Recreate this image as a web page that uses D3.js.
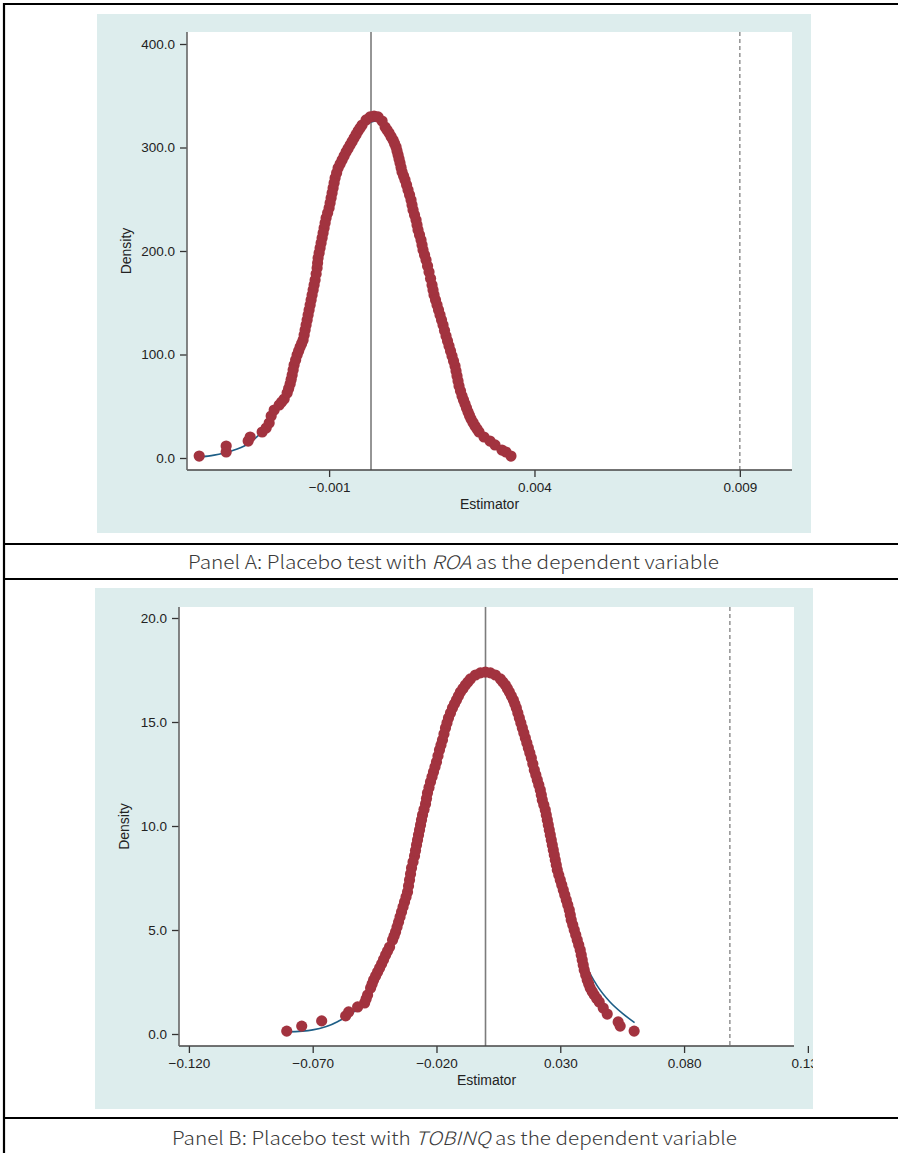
<!DOCTYPE html>
<html>
<head>
<meta charset="utf-8">
<script src="https://cdn.jsdelivr.net/npm/d3@7"></script>
<style>
  html, body { margin: 0; padding: 0; background: #ffffff; }
  svg { display: block; }
</style>
</head>
<body>
<svg id="chart" width="898" height="1153"></svg>
<script>
// ---------------- DATA ----------------
// Panel A: ROA placebo estimates, kernel density (dots) and normal curve (line)
const estA = [-0.004163,-0.003506,-0.003506,-0.002971,-0.002922,-0.002630,-0.002533,-0.002460,-0.002411,-0.002338,
  -0.002216,-0.002095,-0.002022,-0.001949,-0.001900,-0.001852,-0.001779,-0.001706,-0.001633,-0.001584,
  -0.001535,-0.001487,-0.001438,-0.001389,-0.001341,-0.001292,-0.001268,-0.001219,-0.001170,-0.001122,
  -0.001073,-0.001000,-0.000951,-0.000903,-0.000854,-0.000781,-0.000684,-0.000586,-0.000489,-0.000392,
  -0.000294,-0.000197,-0.000100,-0.000002,0.000095,0.000192,0.000290,0.000363,0.000460,0.000557,
  0.000630,0.000679,0.000727,0.000776,0.000849,0.000922,0.000995,0.001044,0.001117,0.001165,
  0.001238,0.001287,0.001360,0.001433,0.001506,0.001555,0.001628,0.001701,0.001774,0.001847,
  0.001920,0.001993,0.002066,0.002114,0.002163,0.002236,0.002309,0.002382,0.002455,0.002552,
  0.002650,0.002771,0.002917,0.003039,0.003209,0.003306,0.003428,
  // further estimates along the left flank
  -0.002156,-0.001985,-0.001924,-0.001876,-0.001815,-0.001742,-0.001669,-0.001608,-0.001560,-0.001511,
  -0.001462,-0.001414,-0.001365,-0.001316,-0.001280,-0.001243,-0.001195,-0.001146,-0.001097,-0.001036,
  -0.000976,-0.000927,-0.000878,-0.000817,-0.000732,-0.000635,-0.000538,-0.000440,-0.000343,-0.000246,
  // further estimates along the right flank
  0.000411,0.000508,0.000594,0.000654,0.000703,0.000752,0.000813,0.000886,0.000959,0.001019,
  0.001080,0.001141,0.001202,0.001263,0.001324,0.001397,0.001470,0.001530,0.001591,0.001664,
  0.001737,0.001810,0.001883,0.001956,0.002029,0.002090,0.002139,0.002199,0.002272,0.002345,
  0.002418,0.002504,0.002601];
const densA = [1.9,5.8,11.6,16.4,20.3,25.1,29.0,33.8,40.6,46.4,
  51.2,57.0,62.8,71.5,80.2,89.9,99.5,107.2,114.0,123.7,
  133.3,143.0,152.7,162.3,172.0,183.6,193.2,202.9,212.6,222.2,
  231.9,241.6,251.2,260.9,270.5,280.2,287.9,295.7,302.4,309.2,
  315.9,321.7,326.6,329.5,330.4,329.5,325.6,319.8,314.0,307.3,
  300.5,292.8,285.0,276.3,268.6,258.9,249.3,239.6,230.0,220.3,
  210.6,201.0,191.3,179.7,167.2,157.5,147.8,138.2,128.5,117.9,
  108.2,98.6,88.9,79.2,69.6,59.9,52.2,44.4,37.7,30.9,
  25.1,20.3,16.4,12.6,7.7,5.8,1.9,
  54.1,67.2,75.8,85.0,94.7,103.4,110.6,118.8,128.5,138.2,
  147.8,157.5,167.2,177.8,188.4,198.1,207.7,217.4,227.1,236.7,
  246.4,256.0,265.7,275.4,284.1,291.8,299.0,305.8,312.6,318.8,
  316.9,310.6,303.9,296.6,288.9,280.7,272.5,263.8,254.1,244.4,
  234.8,225.1,215.5,205.8,196.1,185.5,173.4,162.3,152.7,143.0,
  133.3,123.2,113.0,103.4,93.7,84.1,74.4,64.7,56.0,48.3,
  41.1,34.3,28.0];
const normXA = [-0.00416,-0.0038,-0.0034,-0.0030,-0.0026,-0.0022,-0.0018,-0.0014,-0.0010,-0.0006,-0.0002,
  0.0002,0.0006,0.0010,0.0014,0.0018,0.0022,0.0026,0.0030,0.0034];
const normYA = [1.0,2.8,6.5,13.0,27.0,52.0,97.0,160.0,241.0,293.0,320.0,
  326.0,298.0,249.0,186.0,123.0,62.0,28.0,14.0,3.5];
const meanA = 0.00002;   // solid reference line
const trueA = 0.009;     // dashed line: actual estimate
const xTicksA = [-0.001, 0.004, 0.009];
const yTicksA = [0, 100, 200, 300, 400];

// Panel B: TOBINQ placebo estimates
const estB = [-0.08048,-0.07443,-0.06637,-0.05669,-0.05548,-0.05185,-0.04903,-0.04782,-0.04661,-0.04540,
  -0.04379,-0.04217,-0.04056,-0.03895,-0.03774,-0.03653,-0.03532,-0.03411,-0.03290,-0.03169,
  -0.03089,-0.03008,-0.02887,-0.02806,-0.02726,-0.02645,-0.02564,-0.02443,-0.02363,-0.02242,
  -0.02121,-0.02000,-0.01879,-0.01758,-0.01637,-0.01516,-0.01355,-0.01193,-0.01032,-0.00831,
  -0.00629,-0.00427,-0.00226,-0.00024,0.00177,0.00379,0.00581,0.00782,0.00943,0.01105,
  0.01226,0.01347,0.01468,0.01589,0.01710,0.01831,0.01951,0.02072,0.02193,0.02274,
  0.02395,0.02476,0.02556,0.02637,0.02718,0.02798,0.02879,0.03000,0.03121,0.03242,
  0.03363,0.03443,0.03564,0.03685,0.03806,0.03887,0.03967,0.04088,0.04209,0.04371,
  0.04572,0.04734,0.04895,0.05338,0.05419,0.05983,
  // further estimates along the left flank
  -0.04842,-0.04601,-0.04459,-0.04298,-0.04137,-0.03976,-0.03713,-0.03593,-0.03472,-0.03351,
  -0.03230,-0.03129,-0.03048,-0.02947,-0.02847,-0.02766,-0.02685,-0.02605,-0.02504,-0.02403,
  -0.02302,-0.02181,-0.02060,-0.01939,-0.01818,-0.01697,-0.01577,-0.01435,-0.01274,-0.01113,
  -0.00931,-0.00730,
  // further estimates along the right flank
  0.00681,0.00863,0.01024,0.01165,0.01286,0.01407,0.01528,0.01649,0.01770,0.01891,
  0.02012,0.02133,0.02234,0.02335,0.02435,0.02516,0.02597,0.02677,0.02758,0.02839,
  0.02939,0.03060,0.03181,0.03302,0.03403,0.03504,0.03625,0.03746,0.03847,0.03927,
  0.04028,0.04149,0.04290,0.04472];
const densB = [0.14,0.38,0.63,0.87,1.06,1.30,1.49,1.88,2.21,2.60,
  2.98,3.37,3.80,4.18,4.52,4.90,5.38,5.87,6.35,6.83,
  7.40,7.98,8.56,9.09,9.57,10.05,10.53,11.06,11.59,12.12,
  12.60,13.08,13.65,14.14,14.71,15.19,15.67,16.06,16.44,16.78,
  17.07,17.26,17.36,17.40,17.36,17.26,17.07,16.78,16.44,16.06,
  15.67,15.19,14.71,14.23,13.75,13.27,12.69,12.21,11.73,11.25,
  10.77,10.29,9.81,9.33,8.85,8.37,7.89,7.40,6.92,6.44,
  5.96,5.48,5.00,4.52,4.04,3.56,3.08,2.60,2.21,1.88,
  1.54,1.25,0.96,0.58,0.38,0.14,
  1.68,2.40,2.79,3.17,3.58,3.99,4.71,5.14,5.63,6.11,
  6.59,7.12,7.69,8.27,8.82,9.33,9.81,10.29,10.79,11.32,
  11.85,12.36,12.84,13.37,13.89,14.42,14.95,15.43,15.87,16.25,
  16.61,16.92,
  16.92,16.61,16.25,15.87,15.43,14.95,14.47,13.99,13.51,12.98,
  12.45,11.97,11.49,11.01,10.53,10.05,9.57,9.09,8.61,8.13,
  7.64,7.16,6.68,6.20,5.72,5.24,4.76,4.28,3.80,3.32,
  2.84,2.40,2.04,1.71];
const normXB = [-0.080,-0.070,-0.060,-0.050,-0.040,-0.030,-0.020,-0.010,0.000,0.010,0.020,0.030,0.040,0.045,0.050,0.055,0.060];
const normYB = [0.10,0.20,0.59,1.50,4.00,7.70,13.08,16.44,17.30,16.10,12.00,7.40,3.40,2.30,1.55,1.00,0.55];
const meanB = -0.0002;
const trueB = 0.0985;
const xTicksB = [-0.120, -0.070, -0.020, 0.030, 0.080, 0.130];
const yTicksB = [0, 5, 10, 15, 20];

const captionA = ["Panel A: Placebo test with ", "ROA", " as the dependent variable"];
const captionB = ["Panel B: Placebo test with ", "TOBINQ", " as the dependent variable"];
const xTitle = "Estimator";
const yTitle = "Density";

// ---------------- DRAWING ----------------
const svg = d3.select("#chart");
const BG = "#ddeded";
const DOT = "#a2333f";
const LINE = "#1d5e86";
const TICKFONT = "'Liberation Sans', Arial, sans-serif";

function panel(cfg) {
  const g = svg.append("g");
  const clipId = "clip" + cfg.id;
  svg.append("defs").append("clipPath").attr("id", clipId)
    .append("rect").attr("x", cfg.bg[0]).attr("y", cfg.bg[1])
    .attr("width", cfg.bg[2] - cfg.bg[0]).attr("height", cfg.bg[3] - cfg.bg[1]);
  g.attr("clip-path", `url(#${clipId})`);

  g.append("rect").attr("x", cfg.bg[0]).attr("y", cfg.bg[1])
    .attr("width", cfg.bg[2] - cfg.bg[0]).attr("height", cfg.bg[3] - cfg.bg[1])
    .attr("fill", BG);
  const [L, T, R, B] = cfg.plot;
  g.append("rect").attr("x", L).attr("y", T).attr("width", R - L).attr("height", B - T)
    .attr("fill", "#ffffff");

  const x = d3.scaleLinear().domain(cfg.xDomain).range([L, R]);
  const y = d3.scaleLinear().domain(cfg.yDomain).range(cfg.yRange);

  // reference lines
  g.append("line").attr("x1", x(cfg.mean)).attr("x2", x(cfg.mean)).attr("y1", T).attr("y2", B)
    .attr("stroke", "#7c7c7c").attr("stroke-width", 1.6);
  g.append("line").attr("x1", x(cfg.trueV)).attr("x2", x(cfg.trueV)).attr("y1", T).attr("y2", B)
    .attr("stroke", "#8a8a8a").attr("stroke-width", 1.4).attr("stroke-dasharray", "4,3");

  // normal curve
  const pts = cfg.nx.map((v, i) => [v, cfg.ny[i]]);
  g.append("path").datum(pts)
    .attr("d", d3.line().x(d => x(d[0])).y(d => y(d[1])).curve(d3.curveMonotoneX))
    .attr("fill", "none").attr("stroke", LINE).attr("stroke-width", 1.6);

  // density dots
  g.append("g").selectAll("circle").data(cfg.ex.map((v, i) => [v, cfg.ey[i]])).join("circle")
    .attr("cx", d => x(d[0])).attr("cy", d => y(d[1])).attr("r", 5.6)
    .attr("fill", DOT);

  // axes
  const xAxis = d3.axisBottom(x).tickValues(cfg.xTicks).tickFormat(d3.format(".3f"))
    .tickSize(7).tickSizeOuter(0).tickPadding(5);
  const gx = g.append("g").attr("transform", `translate(0,${B})`).call(xAxis);
  gx.select(".domain").remove();
  gx.selectAll(".tick line").attr("stroke", "#333").attr("stroke-width", 1.3);
  gx.selectAll("text").attr("font-family", TICKFONT).attr("font-size", 13.5).attr("fill", "#222");
  g.append("line").attr("x1", L).attr("x2", R).attr("y1", B).attr("y2", B)
    .attr("stroke", "#444").attr("stroke-width", 1.4);

  const yAxis = d3.axisLeft(y).tickValues(cfg.yTicks).tickFormat(d3.format(".1f"))
    .tickSize(7).tickSizeOuter(0).tickPadding(5);
  const gy = g.append("g").attr("transform", `translate(${L},0)`).call(yAxis);
  gy.select(".domain").remove();
  gy.selectAll(".tick line").attr("stroke", "#333").attr("stroke-width", 1.3);
  gy.selectAll("text").attr("font-family", TICKFONT).attr("font-size", 13.5).attr("fill", "#222");
  g.append("line").attr("x1", L).attr("x2", L).attr("y1", T).attr("y2", B)
    .attr("stroke", "#666").attr("stroke-width", 1.6);

  // axis titles
  g.append("text").attr("x", (L + R) / 2).attr("y", cfg.xTitleY).attr("text-anchor", "middle")
    .attr("dominant-baseline", "middle")
    .attr("font-family", TICKFONT).attr("font-size", 14).attr("fill", "#222").text(xTitle);
  g.append("text").attr("transform", `translate(${cfg.yTitleX},${(T + B) / 2}) rotate(-90)`)
    .attr("text-anchor", "middle").attr("dominant-baseline", "middle")
    .attr("font-family", TICKFONT).attr("font-size", 14).attr("fill", "#222").text(yTitle);

  // caption
  const cap = svg.append("text").attr("x", cfg.capX).attr("y", cfg.capY).attr("text-anchor", "middle")
    .attr("font-family", "'Noto Sans CJK SC', 'Noto Sans', sans-serif").attr("font-weight", 300)
    .attr("font-size", 18.5).attr("fill", "#3a3a3a")
    .attr("textLength", cfg.capW).attr("lengthAdjust", "spacingAndGlyphs");
  cfg.caption.forEach((t, i) => {
    cap.append("tspan").attr("font-style", i === 1 ? "italic" : "normal").text(t);
  });
}

panel({
  id: "A", bg: [97, 14, 811, 533], plot: [187, 32, 792, 470],
  xDomain: [-0.00446, 0.01027], yDomain: [0, 400], yRange: [458, 44],
  mean: meanA, trueV: trueA, nx: normXA, ny: normYA, ex: estA, ey: densA,
  xTicks: xTicksA, yTicks: yTicksA, xTitleY: 505, yTitleX: 127,
  caption: captionA, capX: 453.5, capY: 569, capW: 531
});
panel({
  id: "B", bg: [95, 588, 813, 1109], plot: [179, 607, 794, 1046],
  xDomain: [-0.124, 0.1244], yDomain: [0, 20], yRange: [1034, 618],
  mean: meanB, trueV: trueB, nx: normXB, ny: normYB, ex: estB, ey: densB,
  xTicks: xTicksB, yTicks: yTicksB, xTitleY: 1081, yTitleX: 125,
  caption: captionB, capX: 454.5, capY: 1145, capW: 565
});

// table borders
const borders = [[3, 4, 898, 4], [4, 3, 4, 1153], [3, 544, 898, 544], [3, 579, 898, 579], [3, 1118, 898, 1118]];
svg.append("g").selectAll("line").data(borders).join("line")
  .attr("x1", d => d[0]).attr("y1", d => d[1]).attr("x2", d => d[2]).attr("y2", d => d[3])
  .attr("stroke", "#000").attr("stroke-width", 2.2);
</script>
</body>
</html>
